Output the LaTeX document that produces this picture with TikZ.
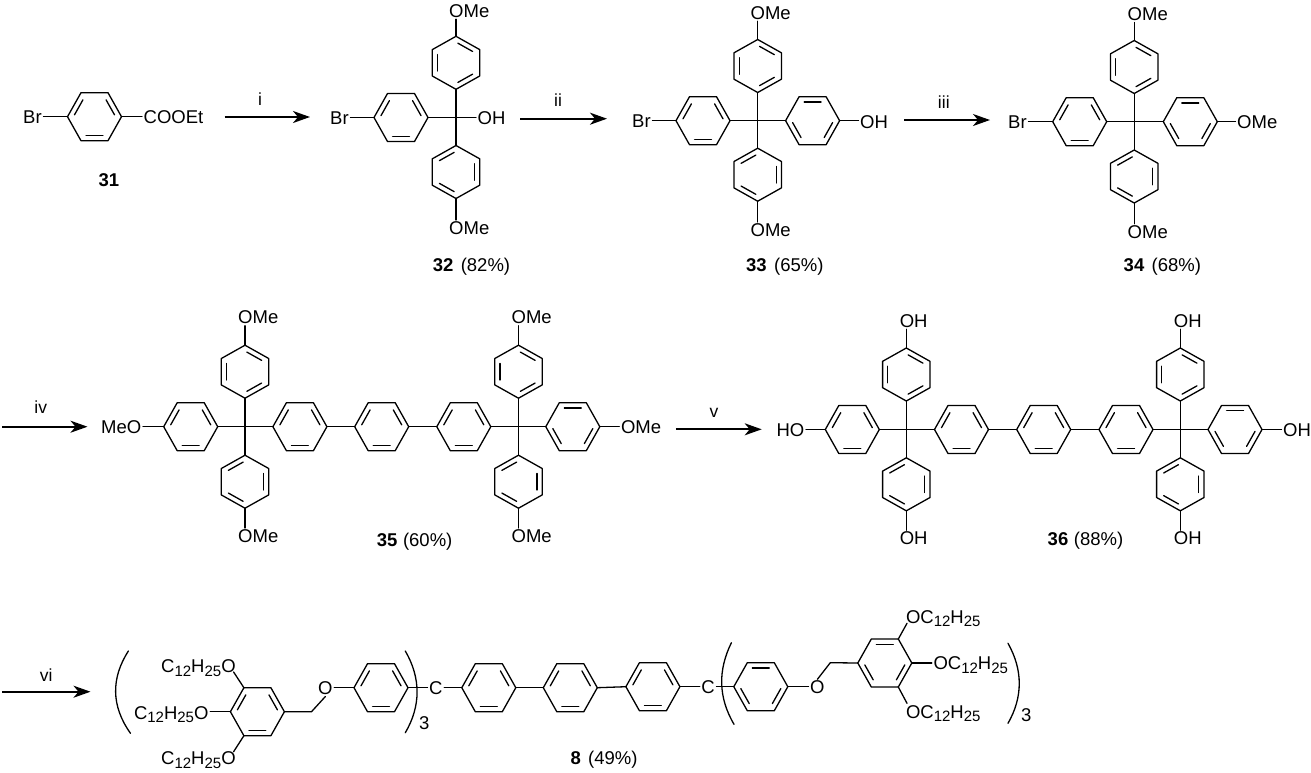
\documentclass[tikz,border=0pt]{standalone}
\usepackage{fontspec}
\setmainfont{Liberation Sans}
\usetikzlibrary{calc,arrows.meta}
\tikzset{
  bond/.style={line width=1.3pt,line join=round,line cap=round,black},
  lab/.style={inner sep=1.5pt,anchor=base west,font=\fontsize{18.5}{20}\selectfont,black},
  rlab/.style={inner sep=1.5pt,anchor=base,font=\fontsize{17.5}{20}\selectfont,black},
  rxn/.style={line width=1.9pt,black,-{Stealth[length=17pt,width=12pt,inset=5pt]}},
  rxnthin/.style={line width=1.3pt,black,-{Stealth[length=17pt,width=12pt,inset=5pt]}},
}
\newcommand{\lab}[4]{\node[lab] (#1) at (#2-1.5,#3+6.6) {#4};}
\newcommand{\sbs}[1]{\raisebox{-3.5pt}{\fontsize{15}{15}\selectfont #1}}
\newcommand{\dbl}[3]{\draw[bond] ($(#1-c)!.78!($(#1-#2)!.1!(#1-#3)$)$) -- ($(#1-c)!.78!($(#1-#3)!.1!(#1-#2)$)$);}
\newcommand{\dHA}[1]{\dbl{#1}{l}{tl}\dbl{#1}{tr}{r}\dbl{#1}{bl}{br}}
\newcommand{\dHB}[1]{\dbl{#1}{tl}{tr}\dbl{#1}{l}{bl}\dbl{#1}{br}{r}}
\newcommand{\dVA}[1]{\dbl{#1}{t}{tr}\dbl{#1}{tl}{bl}\dbl{#1}{br}{b}}
\newcommand{\dVB}[1]{\dbl{#1}{t}{tl}\dbl{#1}{tr}{br}\dbl{#1}{bl}{b}}
% flat-topped ring: name, x, y, A|B
\newcommand{\ringH}[4]{%
  \begin{scope}[shift={(#2,#3)}]
    \coordinate (#1-c) at (0,0);
    \coordinate (#1-l) at (-27,0);
    \coordinate (#1-r) at (27,0);
    \coordinate (#1-tl) at (-13.5,-24);
    \coordinate (#1-tr) at (13.5,-24);
    \coordinate (#1-bl) at (-13.5,24);
    \coordinate (#1-br) at (13.5,24);
    \draw[bond] (#1-l) -- (#1-tl) -- (#1-tr) -- (#1-r) -- (#1-br) -- (#1-bl) -- cycle;
    \csname dH#4\endcsname{#1}
  \end{scope}}
% point-topped ring: name, x, y, A|B
\newcommand{\ringV}[4]{%
  \begin{scope}[shift={(#2,#3)}]
    \coordinate (#1-c) at (0,0);
    \coordinate (#1-t) at (0,-26.5);
    \coordinate (#1-b) at (0,26.5);
    \coordinate (#1-tl) at (-23.7,-13.2);
    \coordinate (#1-tr) at (23.7,-13.2);
    \coordinate (#1-bl) at (-23.7,13.2);
    \coordinate (#1-br) at (23.7,13.2);
    \draw[bond] (#1-t) -- (#1-tr) -- (#1-br) -- (#1-b) -- (#1-bl) -- (#1-tl) -- cycle;
    \csname dV#4\endcsname{#1}
  \end{scope}}
\begin{document}
\begin{tikzpicture}[x=1pt,y=-1pt]
\useasboundingbox (0,0) rectangle (1311,772);
\fill[white] (0,0) rectangle (1311,772);

%% ---------- 31
\lab{brA}{23}{117}{Br}
\ringH{a}{94.5}{116.7}{A}
\lab{coo}{143.5}{117}{COOEt}
\draw[bond] (a-l) -- (a-l -| brA.east);
\draw[bond] (a-r) -- (a-r -| coo.west);
\node[lab,anchor=base,font=\fontsize{18.5}{20}\selectfont\bfseries] (n31) at (109,186.6) {31};

\coordinate (i1) at (224.5,117); \coordinate (i2) at (310,117);
\draw[rxn] (i1) -- (i2);
\node[rlab] (li) at (260,105.6) {i};

%% ---------- 32
\lab{brB}{330}{118}{Br}
\ringH{b}{401}{117.5}{A}
\coordinate (cb) at (456,117.5);
\ringV{b1}{456}{62.8}{A}
\ringV{b2}{456}{172}{B}
\lab{ohB}{477.5}{118}{OH}
\lab{omB1}{449}{10.7}{OMe}
\lab{omB2}{449}{228}{OMe}
\draw[bond] (b-l) -- (b-l -| brB.east);
\draw[bond] (b-r) -- (cb) -- (cb -| ohB.west);
\draw[bond] (b1-b) -- (b2-t);
\draw[bond] (b1-t) -- (b1-t |- omB1.south);
\draw[bond] (b2-b) -- (b2-b |- omB2.north);
\node[lab] (n32) at (432.6-1.5,271.6) {\textbf{32}\hspace{.4em}(82\%)};

\coordinate (ii1) at (520,118.7); \coordinate (ii2) at (607,118.7);
\draw[rxn] (ii1) -- (ii2);
\node[rlab] (lii) at (558,106.6) {ii};

%% ---------- 33
\lab{brC}{632}{121}{Br}
\ringH{c}{703}{120.7}{A}
\coordinate (cc) at (757.7,120.7);
\ringH{cr}{812.6}{120.7}{B}
\ringV{c1}{757.7}{66}{A}
\ringV{c2}{757.7}{174.7}{B}
\lab{ohC}{860}{121.7}{OH}
\lab{omC1}{750.4}{12.7}{OMe}
\lab{omC2}{750.4}{230}{OMe}
\draw[bond] (c-l) -- (c-l -| brC.east);
\draw[bond] (c-r) -- (cr-l);
\draw[bond] (cr-r) -- (cr-r -| ohC.west);
\draw[bond] (c1-b) -- (c2-t);
\draw[bond] (c1-t) -- (c1-t |- omC1.south);
\draw[bond] (c2-b) -- (c2-b |- omC2.north);
\node[lab] (n33) at (746-1.5,271.6) {\textbf{33}\hspace{.4em}(65\%)};

\coordinate (iii1) at (904.4,120); \coordinate (iii2) at (990,120);
\draw[rxnthin] (iii1) -- (iii2);
\node[rlab] (liii) at (943.8,108.3) {iii};

%% ---------- 34
\lab{brD}{1008}{122.3}{Br}
\ringH{d}{1079.7}{121.7}{A}
\coordinate (cd) at (1134.2,121.7);
\ringH{dr}{1190.3}{121.7}{B}
\ringV{d1}{1134.2}{67}{A}
\ringV{d2}{1134.2}{176.5}{B}
\lab{omD}{1237}{122.3}{OMe}
\lab{omD1}{1127.5}{14}{OMe}
\lab{omD2}{1127.5}{231.7}{OMe}
\draw[bond] (d-l) -- (d-l -| brD.east);
\draw[bond] (d-r) -- (dr-l);
\draw[bond] (dr-r) -- (dr-r -| omD.west);
\draw[bond] (d1-b) -- (d2-t);
\draw[bond] (d1-t) -- (d1-t |- omD1.south);
\draw[bond] (d2-b) -- (d2-b |- omD2.north);
\node[lab] (n34) at (1123.5-1.5,271.6) {\textbf{34}\hspace{.4em}(68\%)};

%% ---------- 35
\coordinate (iv1) at (2,426.7); \coordinate (iv2) at (87.5,426.7);
\draw[rxn] (iv1) -- (iv2);
\node[rlab] (liv) at (40.8,413.6) {iv};

\lab{meE}{101}{427.3}{MeO}
\ringH{e1}{190.7}{426.7}{A}
\ringH{e2}{299.9}{426.7}{A}
\ringH{e3}{381.7}{426.7}{A}
\ringH{e4}{463.8}{426.7}{A}
\ringH{e5}{572.8}{426.7}{B}
\ringV{ea}{245}{371.7}{A}
\ringV{eb}{245}{481.7}{B}
\ringV{ec}{518.5}{371.7}{A}
\ringV{ed}{518.5}{481.7}{B}
\lab{omE}{620.8}{427.3}{OMe}
\lab{omEa}{238}{317.3}{OMe}
\lab{omEb}{238}{536}{OMe}
\lab{omEc}{511.4}{317.3}{OMe}
\lab{omEd}{511.4}{536}{OMe}
\draw[bond] (e1-l) -- (e1-l -| meE.east);
\draw[bond] (e1-r) -- (e2-l);
\draw[bond] (e2-r) -- (e3-l);
\draw[bond] (e3-r) -- (e4-l);
\draw[bond] (e4-r) -- (e5-l);
\draw[bond] (e5-r) -- (e5-r -| omE.west);
\draw[bond] (ea-b) -- (eb-t);
\draw[bond] (ec-b) -- (ed-t);
\draw[bond] (ea-t) -- (ea-t |- omEa.south);
\draw[bond] (eb-b) -- (eb-b |- omEb.north);
\draw[bond] (ec-t) -- (ec-t |- omEc.south);
\draw[bond] (ed-b) -- (ed-b |- omEd.north);
\node[lab] (n35) at (376.7-1.5,546.6) {\textbf{35}\hspace{.3em}(60\%)};

%% ---------- 36
\coordinate (v1) at (675.8,429.3); \coordinate (v2) at (761.7,429.3);
\draw[rxn] (v1) -- (v2);
\node[rlab] (lv) at (714,417.3) {v};

\lab{hoF}{776.3}{430}{HO}
\ringH{f1}{852.3}{429.5}{A}
\ringH{f2}{961.5}{429.5}{A}
\ringH{f3}{1043.7}{429.5}{A}
\ringH{f4}{1126}{429.5}{A}
\ringH{f5}{1235}{429.5}{B}
\ringV{fa}{906.3}{374.5}{A}
\ringV{fb}{906.3}{484.3}{B}
\ringV{fc}{1180.3}{374.5}{A}
\ringV{fd}{1180.3}{484.3}{B}
\lab{ohF}{1283}{430}{OH}
\lab{ohFa}{899.6}{320.7}{OH}
\lab{ohFb}{899.6}{538.3}{OH}
\lab{ohFc}{1173.7}{320.7}{OH}
\lab{ohFd}{1173.7}{538.3}{OH}
\draw[bond] (f1-l) -- (f1-l -| hoF.east);
\draw[bond] (f1-r) -- (f2-l);
\draw[bond] (f2-r) -- (f3-l);
\draw[bond] (f3-r) -- (f4-l);
\draw[bond] (f4-r) -- (f5-l);
\draw[bond] (f5-r) -- (f5-r -| ohF.west);
\draw[bond] (fa-b) -- (fb-t);
\draw[bond] (fc-b) -- (fd-t);
\draw[bond] (fa-t) -- (fa-t |- ohFa.south);
\draw[bond] (fb-b) -- (fb-b |- ohFb.north);
\draw[bond] (fc-t) -- (fc-t |- ohFc.south);
\draw[bond] (fd-b) -- (fd-b |- ohFd.north);
\node[lab] (n36) at (1047.5-1.5,545.9) {\textbf{36}\hspace{.3em}(88\%)};

%% ---------- 8
\coordinate (vi1) at (2,691.7); \coordinate (vi2) at (90.5,691.7);
\draw[rxn] (vi1) -- (vi2);
\node[rlab] (lvi) at (46.3,681.6) {vi};

\draw[bond] (128.4,651) .. controls (111,678) and (111,706) .. (130.5,733.3);
\draw[bond] (405.3,651) .. controls (421,678) and (421,706) .. (405.3,732.7);
\lab{sub1}{419}{723.3}{3}
\draw[bond] (731.4,642.7) .. controls (718,670) and (718,697) .. (734,724.3);
\draw[bond] (1008,643.3) .. controls (1023,670) and (1023,697) .. (1008,723.3);
\lab{sub2}{1021}{715}{3}

\lab{gA}{161}{666}{C\sbs{12}H\sbs{25}O}
\lab{gB}{133.8}{712.7}{C\sbs{12}H\sbs{25}O}
\lab{gC}{161}{758.3}{C\sbs{12}H\sbs{25}O}
\ringH{g}{257.4}{711.7}{A}
\coordinate (gA1) at (233.6,672);
\coordinate (gC1) at (233.6,751.7);
\coordinate (gM) at (311.5,711.7);
\lab{gO}{318}{688}{O}
\ringH{h}{381}{687.7}{A}
\lab{cL}{429}{688}{C}
\ringH{j1}{488.8}{687.7}{A}
\ringH{j2}{570.3}{687.7}{A}
\ringH{j3}{652.9}{686.7}{A}
\lab{cR}{701.2}{687.3}{C}
\ringH{k}{760.8}{686.7}{B}
\lab{kO}{810}{687.3}{O}
\coordinate (kM) at (830.3,662.7);
\ringH{m}{884.8}{663}{B}
\coordinate (mA1) at (907,623.3);
\coordinate (mC1) at (907,703.3);
\lab{mA}{905.8}{616.7}{OC\sbs{12}H\sbs{25}}
\lab{mB}{933.3}{663.3}{OC\sbs{12}H\sbs{25}}
\lab{mC}{905.8}{711.7}{OC\sbs{12}H\sbs{25}}
\draw[bond] (g-tl) -- (gA1);
\draw[bond] (g-l) -- (g-l -| gB.east);
\draw[bond] (g-bl) -- (gC1);
\draw[bond] (g-r) -- (gM) -- (gO.south);
\draw[bond] (gO.east |- h-l) -- (h-l);
\draw[bond] (h-r) -- (h-r -| cL.west);
\draw[bond] (j1-l -| cL.east) -- (j1-l);
\draw[bond] (j1-r) -- (j2-l);
\draw[bond] (j2-r) -- (j3-l);
\draw[bond] (j3-r) -- (j3-r -| cR.west);
\draw[bond] (k-l -| cR.east) -- (k-l);
\draw[bond] (k-r) -- (k-r -| kO.west);
\draw[bond] (kO.north) -- (kM) -- (m-l);
\draw[bond] (m-tr) -- (mA1);
\draw[bond] (m-r) -- (m-r -| mB.west);
\draw[bond] (m-br) -- (mC1);
\node[lab] (n8) at (570.3-1.5,764.9) {\textbf{8}\hspace{.4em}(49\%)};
\end{tikzpicture}
\end{document}
